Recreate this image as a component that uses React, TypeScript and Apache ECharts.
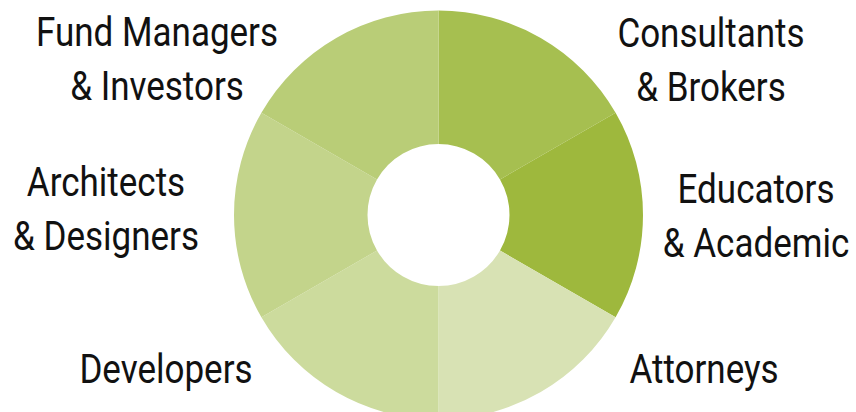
import React, { useEffect, useRef } from "react";
import * as echarts from "echarts";

const categories = [
  "Consultants\n& Brokers",
  "Educators\n& Academic",
  "Attorneys",
  "Developers",
  "Architects\n& Designers",
  "Fund Managers\n& Investors",
];
const values = [1, 1, 1, 1, 1, 1];
const colors = ["#a6bf50", "#9eb83d", "#d8e2b4", "#ccdb9d", "#c3d48b", "#b9cd77"];
// label anchor positions (layout only)
const labelPos = [
  [711, 60],
  [756, 216],
  [704, 369],
  [166, 369],
  [106, 209],
  [157, 59],
];

export default function App() {
  const ref = useRef<HTMLDivElement>(null);
  useEffect(() => {
    if (!ref.current) return;
    const chart = echarts.init(ref.current, null, { renderer: "svg" });
    chart.setOption({
      animation: false,
      backgroundColor: "#ffffff",
      series: [
        {
          type: "pie",
          center: [438.5, 215],
          radius: [71, 204.5],
          startAngle: 90,
          clockwise: true,
          silent: true,
          label: { show: false },
          labelLine: { show: false },
          itemStyle: { borderWidth: 0 },
          data: categories.map((name, i) => ({
            name,
            value: values[i],
            itemStyle: { color: colors[i] },
          })),
        },
      ],
      graphic: categories.map((name, i) => ({
        type: "text",
        x: labelPos[i][0],
        y: labelPos[i][1],
        scaleX: 0.875,
        style: {
          text: name,
          font: "40px Roboto",
          fill: "#111111",
          textAlign: "center",
          textVerticalAlign: "middle",
          lineHeight: 54,
        },
      })),
    });
    return () => chart.dispose();
  }, []);
  return (
    <div
      ref={ref}
      style={{ position: "absolute", left: 0, top: 0, width: 856, height: 412 }}
    />
  );
}
